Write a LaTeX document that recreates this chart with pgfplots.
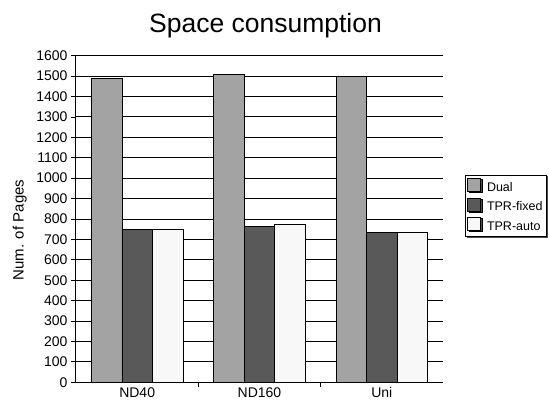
\documentclass[border=0pt]{standalone}
\usepackage{fontspec}
\setmainfont{Liberation Sans}
\usepackage{pgfplots}
\pgfplotsset{compat=1.18}
\usetikzlibrary{shadows}

\definecolor{dualgray}{HTML}{A3A3A3}
\definecolor{fixedgray}{HTML}{595959}
\definecolor{autogray}{HTML}{F8F8F8}

\begin{document}
\begin{tikzpicture}[x=1pt,y=1pt]
\useasboundingbox (0,0) rectangle (549,402);
\node[font=\fontsize{26.5}{30}\selectfont] at (265.5,376) {Space consumption};
\begin{axis}[
  at={(76pt,19.7pt)}, anchor=south west,
  scale only axis, width=367pt, height=326.6pt,
  ymin=0, ymax=1600, ytick distance=100,
  xmin=-0.5, xmax=2.5,
  xtick={0.5,1.5}, xticklabels={},
  extra x ticks={0,1,2},
  extra x tick labels={ND40,ND160,Uni},
  extra x tick style={major tick length=0pt},
  axis x line*=bottom, axis y line*=left,
  axis line style={black, line width=1pt, -},
  tick align=outside, major tick length=5pt,
  tick style={black, line width=0.8pt},
  ymajorgrids, grid style={black, line width=0.9pt},
  /pgf/number format/assume math mode=true,
  /pgf/number format/1000 sep={},
  ticklabel style={font=\fontsize{14}{16}\selectfont},
  xticklabel style={yshift=-1.5pt},
  ylabel={Num. of Pages},
  ylabel style={at={(axis description cs:-0.153,0.466)}, anchor=center,
                font=\fontsize{15}{17}\selectfont},
  ybar=0pt, bar width=30.5pt,
  legend style={at={(axis description cs:1.06,0.6356)}, anchor=north west,
                draw=black, line width=0.8pt, fill=white,
                drop shadow={shadow xshift=1.2pt, shadow yshift=-1.2pt, fill=black!70, opacity=1},
                font=\fontsize{12.5}{15}\selectfont, row sep=3pt, column sep=4pt,
                inner xsep=2pt, inner ysep=3pt},
  legend cell align=left,
  legend image code/.code={\draw[#1, line width=0.6pt] (0pt,-4pt) rectangle (13pt,9pt);},
]
\addplot[fill=dualgray, draw=black, line width=0.6pt]
  coordinates {(0,1489) (1,1507) (2,1497)};
\addplot[fill=fixedgray, draw=black, line width=0.6pt]
  coordinates {(0,750) (1,764) (2,733)};
\addplot[fill=autogray, draw=black, line width=0.6pt]
  coordinates {(0,750) (1,774) (2,733)};
\legend{Dual,TPR-fixed,TPR-auto}
\end{axis}
\end{tikzpicture}
\end{document}
